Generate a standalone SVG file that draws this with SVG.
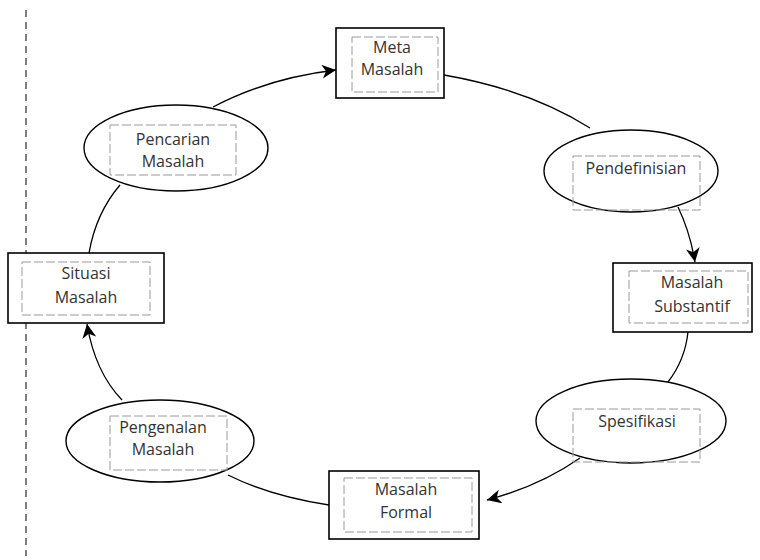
<svg xmlns="http://www.w3.org/2000/svg" width="760" height="560" viewBox="0 0 760 560">
<style>
.box{fill:#fff;stroke:#000;stroke-width:1.6}
.ell{fill:#fff;stroke:#000;stroke-width:1.4}
.inner{fill:none;stroke:#9a9a9a;stroke-width:1;stroke-dasharray:9 3}
.t{font-family:"Open Sans","Noto Sans",sans-serif;font-size:16px;fill:#333;text-anchor:middle}
.c{fill:none;stroke:#000;stroke-width:1.3}
</style>
<defs>
<marker id="ah" markerUnits="userSpaceOnUse" markerWidth="16" markerHeight="14" refX="14" refY="7" orient="auto">
<path d="M0,0 L14,7 L0,14 L4,7 z" fill="#000"/>
</marker>
</defs>
<rect width="760" height="560" fill="#fff"/>
<line x1="26" y1="10" x2="26" y2="556" stroke="#555" stroke-width="1.5" stroke-dasharray="7 5"/>
<g id="connectors">
<path class="c" d="M213,107 Q268,78 336,70" marker-end="url(#ah)"/>
<path class="c" d="M444,75 Q530,90 590,128"/>
<path class="c" d="M678,207 Q690,232 695,262" marker-end="url(#ah)"/>
<path class="c" d="M688,332 Q685,360 668,382"/>
<path class="c" d="M580,458 Q540,486 487,500" marker-end="url(#ah)"/>
<path class="c" d="M329,505 Q270,496 228,475"/>
<path class="c" d="M122,400 Q95,372 87,324" marker-end="url(#ah)"/>
<path class="c" d="M89,253 Q96,213 120,185"/>
</g>
<g id="meta">
<rect class="box" x="336" y="28" width="108" height="70"/>
<rect class="inner" x="352" y="37" width="86" height="55"/>
<text class="t" x="392" y="53">Meta</text>
<text class="t" x="392" y="75">Masalah</text>
</g>
<g id="pendefinisian">
<ellipse class="ell" cx="631" cy="171" rx="87" ry="41"/>
<rect class="inner" x="573" y="156" width="127" height="54"/>
<text class="t" x="636" y="174">Pendefinisian</text>
</g>
<g id="substantif">
<rect class="box" x="613" y="263" width="139" height="69"/>
<rect class="inner" x="629" y="271" width="119" height="52"/>
<text class="t" x="692" y="288">Masalah</text>
<text class="t" x="692" y="312">Substantif</text>
</g>
<g id="spesifikasi">
<ellipse class="ell" cx="631" cy="421" rx="95" ry="42"/>
<rect class="inner" x="573" y="409" width="127" height="53"/>
<text class="t" x="637" y="427">Spesifikasi</text>
</g>
<g id="formal">
<rect class="box" x="329" y="471" width="150" height="68"/>
<rect class="inner" x="344" y="478" width="128" height="54"/>
<text class="t" x="406" y="495">Masalah</text>
<text class="t" x="406" y="518">Formal</text>
</g>
<g id="pengenalan">
<ellipse class="ell" cx="160" cy="441" rx="94" ry="41"/>
<rect class="inner" x="110" y="416" width="117" height="54"/>
<text class="t" x="163" y="433">Pengenalan</text>
<text class="t" x="163" y="455">Masalah</text>
</g>
<g id="situasi">
<rect class="box" x="8" y="253" width="156" height="70"/>
<rect class="inner" x="22" y="262" width="128" height="53"/>
<text class="t" x="86" y="279">Situasi</text>
<text class="t" x="86" y="303">Masalah</text>
</g>
<g id="pencarian">
<ellipse class="ell" cx="176" cy="148" rx="92" ry="43"/>
<rect class="inner" x="110" y="125" width="126" height="50"/>
<text class="t" x="173" y="145">Pencarian</text>
<text class="t" x="173" y="167">Masalah</text>
</g>
</svg>
